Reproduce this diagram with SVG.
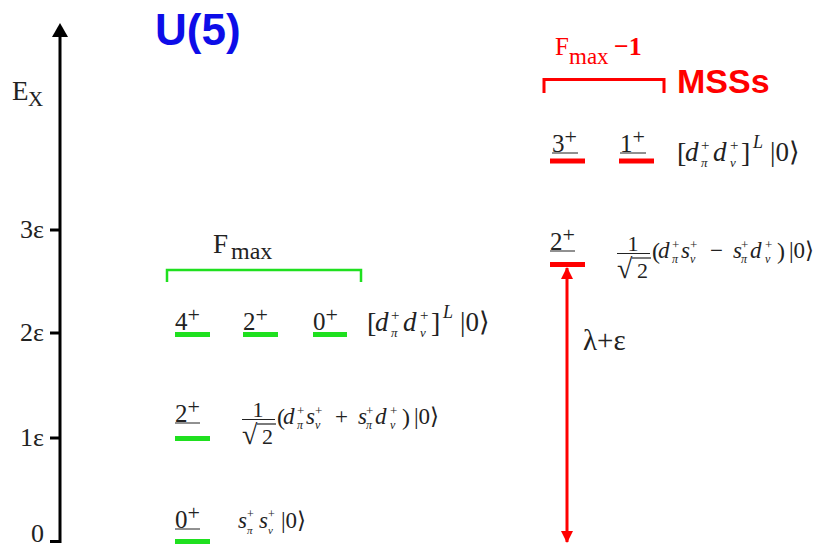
<svg xmlns="http://www.w3.org/2000/svg" width="817" height="548" viewBox="0 0 817 548">
<style>
.s{font-family:"Liberation Serif","Times New Roman",serif;fill:#222}
.i{font-style:italic}
.t{font-size:27px}
.m{font-size:23px}
.sc{font-size:15px}
.sb{font-size:13px}
.lbl{font-family:"Liberation Serif","Times New Roman",serif;font-size:25px;fill:#222}
.ul{stroke:#222;stroke-width:1}
.gl{stroke:#1fe01f;stroke-width:5}
.rl{stroke:#ff0000;stroke-width:5}
.tick{font-family:"Liberation Serif","Times New Roman",serif;font-size:26px;fill:#222}
</style>
<defs>
<marker id="ah" viewBox="0 0 12 12" refX="11" refY="6" markerWidth="12" markerHeight="12" markerUnits="userSpaceOnUse" orient="auto-start-reverse">
<path d="M0,0 L12,6 L0,12 z" fill="#ff0000"/>
</marker>
<g id="fa">
<text class="s" x="0" y="1" font-size="28">[</text>
<text class="s i t" x="8" y="0">d</text>
<text class="s sc" x="24" y="-11">+</text>
<text class="s i sb" x="24" y="6">π</text>
<text class="s i t" x="36" y="0">d</text>
<text class="s sc" x="53" y="-11">+</text>
<text class="s i sb" x="53" y="6">ν</text>
<text class="s" x="64" y="1" font-size="28">]</text>
<text class="s i" x="76" y="-13" font-size="18">L</text>
<text class="s t" x="93" y="0">|0⟩</text>
</g>
<g id="frac">
<text class="s" x="16" y="-7" font-size="22" text-anchor="middle">1</text>
<line x1="0" y1="-4.5" x2="33" y2="-4.5" stroke="#222" stroke-width="1.2"/>
<text class="s" x="0" y="20" font-size="28">√</text>
<line x1="15" y1="0" x2="34" y2="0" stroke="#222" stroke-width="1.2"/>
<text class="s" x="20" y="20" font-size="22">2</text>
<text class="s" x="35" y="1" font-size="24">(</text>
<text class="s i m" x="41" y="0">d</text>
<text class="s sb" x="55" y="-9">+</text>
<text class="s i" x="55" y="5" font-size="12">π</text>
<text class="s i m" x="64" y="0">s</text>
<text class="s sb" x="73" y="-9">+</text>
<text class="s i" x="73" y="5" font-size="12">ν</text>
<text class="s i m" x="116" y="0">s</text>
<text class="s sb" x="124" y="-9">+</text>
<text class="s i" x="124" y="5" font-size="12">π</text>
<text class="s i m" x="133" y="0">d</text>
<text class="s sb" x="148" y="-9">+</text>
<text class="s i" x="148" y="5" font-size="12">ν</text>
<text class="s" x="160" y="1" font-size="24">)</text>
<text class="s m" x="172" y="0">|0⟩</text>
</g>
</defs>
<rect width="817" height="548" fill="#ffffff"/>

<g id="axis">
<line x1="60" y1="35" x2="60" y2="543" stroke="#000" stroke-width="3"/>
<polygon points="60,23 52,37 68,37" fill="#000"/>
<line x1="50" y1="230" x2="60" y2="230" stroke="#000" stroke-width="3"/>
<line x1="50" y1="333" x2="60" y2="333" stroke="#000" stroke-width="3"/>
<line x1="50" y1="438" x2="60" y2="438" stroke="#000" stroke-width="3"/>
<line x1="50" y1="541.5" x2="61" y2="541.5" stroke="#000" stroke-width="3"/>
<text class="tick" x="44" y="238" text-anchor="end">3ε</text>
<text class="tick" x="44" y="341" text-anchor="end">2ε</text>
<text class="tick" x="44" y="446" text-anchor="end">1ε</text>
<text class="tick" x="44" y="542" text-anchor="end" font-size="22">0</text>
<text class="s" x="12" y="100" font-size="27">E</text>
<text class="s" x="28" y="106" font-size="21">X</text>
</g>

<g id="title">
<text x="155" y="45" font-family="'Liberation Sans',Arial,sans-serif" font-weight="bold" font-size="44" fill="#0d0de8">U(5)</text>
</g>

<g id="fmax-group">
<path d="M167,282 V270 H361 V282" fill="none" stroke="#1fe01f" stroke-width="2.5"/>
<text class="s" x="213" y="253" font-size="27">F</text>
<text class="s" x="231" y="259" font-size="24">max</text>
</g>

<g id="mss-group">
<path d="M544,93 V79.5 H664 V93" fill="none" stroke="#ff0000" stroke-width="3"/>
<text x="555" y="55" font-family="'Liberation Serif',serif" font-size="25" fill="#ff0000">F</text>
<text x="569" y="64" font-family="'Liberation Serif',serif" font-size="23" fill="#ff0000">max</text>
<text x="614" y="55" font-family="'Liberation Serif',serif" font-weight="bold" font-size="26" fill="#ff0000">−1</text>
<text x="677" y="93" font-family="'Liberation Sans',Arial,sans-serif" font-weight="bold" font-size="34" fill="#ff0000">MSSs</text>
</g>

<g id="level-0">
<line class="gl" x1="175" y1="541.5" x2="210" y2="541.5"/>
<text class="lbl" x="175" y="528">0<tspan font-size="22" dy="-8">+</tspan></text>
<line class="ul" x1="175" y1="529" x2="200" y2="529"/>
<text class="s i m" x="238" y="528">s</text>
<text class="s" x="247" y="518" font-size="12">+</text>
<text class="s i" x="247" y="534" font-size="11">π</text>
<text class="s i m" x="259" y="528">s</text>
<text class="s" x="268" y="518" font-size="12">+</text>
<text class="s i" x="268" y="534" font-size="11">ν</text>
<text class="s m" x="281" y="528">|0⟩</text>
</g>

<g id="level-1e">
<line class="gl" x1="175" y1="438.5" x2="210" y2="438.5"/>
<text class="lbl" x="175" y="422">2<tspan font-size="22" dy="-8">+</tspan></text>
<line class="ul" x1="175" y1="423" x2="200" y2="423"/>
<use href="#frac" x="242" y="424"/>
<text class="s m" x="335" y="424">+</text>
</g>

<g id="level-2e">
<line class="gl" x1="175" y1="334.5" x2="210" y2="334.5"/>
<text class="lbl" x="175" y="330">4<tspan font-size="22" dy="-8">+</tspan></text>
<line class="gl" x1="243" y1="334.5" x2="278" y2="334.5"/>
<text class="lbl" x="243" y="330">2<tspan font-size="22" dy="-8">+</tspan></text>
<line class="gl" x1="313" y1="334.5" x2="347" y2="334.5"/>
<text class="lbl" x="313" y="330">0<tspan font-size="22" dy="-8">+</tspan></text>
<use href="#fa" x="367" y="331"/>
</g>

<g id="level-mss-2">
<line class="rl" x1="550" y1="264.5" x2="585" y2="264.5"/>
<text class="lbl" x="550" y="250">2<tspan font-size="22" dy="-8">+</tspan></text>
<line class="ul" x1="550" y1="251" x2="575" y2="251"/>
<use href="#frac" x="617" y="258"/>
<text class="s m" x="710" y="258">−</text>
</g>

<g id="level-mss-31">
<line class="rl" x1="550" y1="161" x2="585" y2="161"/>
<text class="lbl" x="552" y="152">3<tspan font-size="22" dy="-8">+</tspan></text>
<line class="ul" x1="552" y1="153" x2="578" y2="153"/>
<line class="rl" x1="619" y1="161" x2="654" y2="161"/>
<text class="lbl" x="620" y="152">1<tspan font-size="22" dy="-8">+</tspan></text>
<line class="ul" x1="620" y1="153" x2="646" y2="153"/>
<use href="#fa" x="677" y="161"/>
</g>

<g id="connectors">
<line x1="567" y1="268" x2="567" y2="542" stroke="#ff0000" stroke-width="3" marker-start="url(#ah)" marker-end="url(#ah)"/>
<text class="s" x="583" y="350" font-size="29">λ+ε</text>
</g>
</svg>
